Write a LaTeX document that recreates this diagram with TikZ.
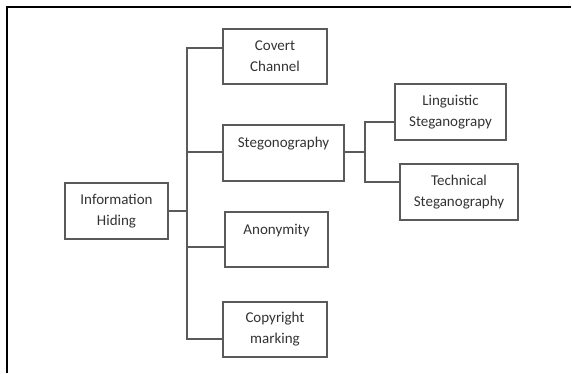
\documentclass[tikz,border=0pt]{standalone}
\usepackage{fontspec}
\setmainfont{Carlito}
\usepackage{tikz}
\usetikzlibrary{positioning,calc}
\definecolor{boxline}{HTML}{5A5A5A}
\definecolor{labeltext}{HTML}{333333}
\tikzset{
  hidebox/.style={draw=boxline, line width=1.3pt, align=center, inner sep=0pt,
    font=\fontsize{15}{21}\selectfont, text=labeltext},
  link/.style={draw=boxline, line width=1.2pt},
  frameline/.style={draw=black, line width=2pt}
}
\begin{document}
\begin{tikzpicture}[x=1pt,y=-1pt]
    \useasboundingbox (0,0) rectangle (572,373);
    \draw[frameline] (7,373) -- (7,7) -- (571,7);
    % root and first level
    \node[hidebox, minimum width=103pt, minimum height=56pt] (info) at (116.5,211) {Information\\Hiding};
    \node[hidebox, minimum width=104pt, minimum height=55pt] (covert) at (275,56.5) {Covert\\Channel};
    \node[hidebox, minimum width=121pt, minimum height=56pt] (steg) at (283.5,153) {Stegonography\\\mbox{}};
    \node[hidebox, minimum width=103pt, minimum height=55pt] (anon) at (276.5,239.5) {Anonymity\\\mbox{}};
    \node[hidebox, minimum width=104pt, minimum height=55pt] (copy) at (275,329.5) {Copyright\\marking};
    % second level
    \node[hidebox, minimum width=111pt, minimum height=56pt] (ling) at (450.5,112) {Linguistic\\Steganograpy};
    \node[hidebox, minimum width=118pt, minimum height=56pt] (tech) at (459,192) {Technical\\Steganography};
    % connectors
    \coordinate (trunk) at (187,211);
    \coordinate (branch) at (365,152);
    \draw[link] (info.east) -- (trunk);
    \draw[link] (trunk) |- ([yshift=8.5pt]covert.west);
    \draw[link] (trunk) |- ([yshift=1pt]steg.west);
    \draw[link] (trunk) |- ([yshift=-7.5pt]anon.west);
    \draw[link] (trunk) |- ([yshift=-9.5pt]copy.west);
    \draw[link] ([yshift=1pt]steg.east) -- (branch);
    \draw[link] (branch) |- ([yshift=-10pt]ling.west);
    \draw[link] (branch) |- ([yshift=10pt]tech.west);
  \end{tikzpicture}
\end{document}
